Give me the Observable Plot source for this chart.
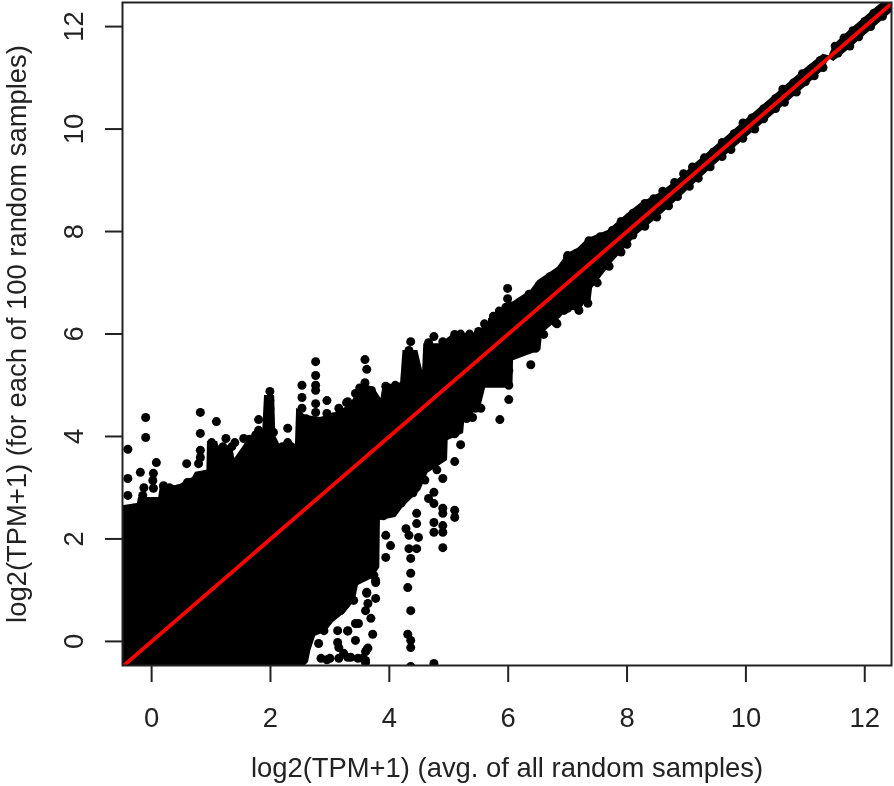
<!DOCTYPE html>
<html>
<head>
<meta charset="utf-8">
<script src="https://cdn.jsdelivr.net/npm/d3@7"></script>
<script src="https://cdn.jsdelivr.net/npm/@observablehq/plot@0.6"></script>
<style>
html,body{margin:0;padding:0;background:#fff}
svg{display:block;filter:blur(0.4px)}
</style>
</head>
<body>
<div id="chart"></div>
<script>
const xLabel = "log2(TPM+1) (avg. of all random samples)";
const yLabel = "log2(TPM+1) (for each of 100 random samples)";
const tickValues = [0, 2, 4, 6, 8, 10, 12];
const xDomain = [-0.49, 12.45];
const yDomain = [-0.47, 12.47];

// upper edge of the dense cloud
const upperX = [-0.49,-0.24,-0.22,0.12,0.15,0.44,0.69,0.74,0.93,0.94,1.11,1.13,1.36,1.40,1.55,1.63,1.87,1.90,2.07,2.09,2.17,2.42,2.44,2.59,2.85,3.18,3.35,3.54,3.74,3.86,3.89,4.19,4.23,4.48,4.56,4.58,4.87,5.08,5.42,5.66,5.67,5.93,6.16,6.38,6.50,6.83,7.00,7.17,7.34,7.68,8.01,8.23,8.57,8.91,9.12,9.5,10,10.5,11,11.3,11.4,11.48,11.7,12,12.45];
const upperY = [2.65,2.69,2.81,2.81,3.06,3.04,3.20,3.30,3.34,3.90,3.90,3.82,3.82,3.57,3.82,3.98,4.12,4.80,4.80,4.0,3.82,3.84,4.55,4.41,4.37,4.50,4.64,5.03,4.96,4.74,4.96,5.05,5.68,5.68,5.29,5.81,5.81,6.01,6.01,6.20,6.30,6.50,6.69,6.85,7.04,7.30,7.57,7.67,7.86,8.02,8.35,8.55,8.76,9.07,9.30,9.68,10.18,10.68,11.18,11.46,11.43,11.64,11.88,12.18,12.63];

// lower edge of the dense cloud
const lowerX = [-0.49,2.59,2.64,2.68,2.76,2.93,3.06,3.27,3.43,3.48,3.72,3.84,3.85,4.11,4.23,4.53,4.65,4.98,4.99,5.25,5.27,5.54,5.62,5.96,6.08,6.09,6.55,6.58,6.89,7.02,7.39,7.42,7.76,8.18,8.52,8.91,9.24,9.5,10,10.5,11,11.32,11.4,11.48,11.7,12,12.45];
const lowerY = [-0.47,-0.47,-0.41,-0.18,0.10,0.18,0.37,0.57,0.80,1.09,1.23,1.44,2.36,2.42,2.61,2.95,3.28,3.53,3.92,4.06,4.31,4.57,4.94,4.94,4.96,5.48,5.68,6.01,6.32,6.52,6.60,6.89,7.40,7.94,8.27,8.68,9.04,9.32,9.82,10.32,10.82,11.16,11.37,11.32,11.52,11.82,12.27];

// individually visible points around the cloud
const pointX = [-0.40,-0.10,-0.10,-0.40,-0.40,-0.19,0.08,0.03,0.02,-0.13,-0.15,0.03,0.2,0.59,0.61,0.82,0.82,0.82,0.82,0.79,1.09,1.01,1.25,1.40,1.55,1.80,1.80,1.99,1.99,1.99,1.99,2.05,2.29,2.29,2.53,2.53,2.53,2.53,2.76,2.76,2.76,2.76,2.76,2.76,2.95,2.95,3.15,3.28,3.59,3.62,3.59,3.43,3.30,3.94,4.36,4.33,4.66,4.75,4.90,5.10,
 6.38,5.86,6.01,5.54,5.40,5.20,5.10,4.90,4.75,4.66,4.75,4.90,4.90,5.10,5.10,4.46,4.46,4.75,4.90,4.75,4.90,4.90,4.28,4.33,4.49,4.33,4.46,4.36,4.36,4.31,4.36,4.31,4.36,4.36,4.36,4.75,3.94,4.02,3.94,3.77,3.74,3.77,3.62,3.69,3.60,3.72,3.43,3.43,3.30,3.62,3.60,3.47,3.30,3.23,3.40,3.18,2.81,2.85,3.13,3.15,3.13,2.90,3.30,3.35,
 5.99,5.99,5.96,7.19,7.19,7.34,6.82,6.94,6.46,6.26,6.01,6.01,7.0,7.36,
 3.60,3.64,3.15,3.48,3.62,3.64,3.77,3.0,2.95,3.55,3.6];
const pointY = [3.75,4.37,3.98,3.18,2.85,3.30,3.49,3.28,3.14,3.0,2.85,2.99,3.04,3.47,3.10,4.47,4.06,3.73,3.59,3.47,4.29,3.88,3.96,3.88,3.96,4.33,4.12,4.88,4.70,4.55,4.35,4.08,4.16,3.88,5.0,4.76,4.55,4.35,5.46,5.19,5.0,4.90,4.64,4.47,4.70,4.45,4.55,4.66,5.50,5.31,5.05,4.84,4.68,4.98,5.85,5.68,5.83,5.95,5.85,5.99,
 5.40,4.33,4.72,4.55,4.37,3.84,3.51,3.18,2.91,2.79,2.69,2.60,2.50,2.56,2.42,2.50,2.30,2.32,2.26,2.13,2.13,1.83,2.20,2.07,2.03,1.81,1.81,1.62,1.33,1.05,0.60,0.14,0.02,-0.12,-0.49,-0.43,1.64,1.87,2.07,1.15,1.29,0.84,0.94,0.45,0.60,0.14,0.35,0.02,0.20,-0.16,-0.41,-0.33,-0.31,-0.23,0.80,0.60,-0.04,-0.33,-0.02,-0.33,0.21,0.21,0.21,-0.31,
 6.89,6.69,6.52,6.46,6.60,6.60,6.2,6.46,5.72,5.68,5.29,5.0,7.53,7.82,
 -0.37,-0.13,-0.12,0.35,0.96,0.74,1.19,-0.33,-0.36,-0.33,-0.2];

// points lying on the scalloped edge of the cloud
const edgeX = [8.1,8.3,8.45,8.6,8.8,8.95,9.1,9.3,9.45,9.6,9.8,9.95,10.1,10.3,10.5,10.62,10.8,10.95,11.1,11.25,11.5,11.65,11.8,12.0,12.15,12.35,
 8.1,8.3,8.5,8.7,8.85,9.05,9.2,9.4,9.6,9.75,9.95,10.15,10.3,10.5,10.65,10.85,11.0,11.15,11.3,11.55,11.75,11.9,12.1,12.3,
 6.2,6.35,6.52,6.7,6.85,7.0,7.15,7.35,7.55,7.75,7.9,
 6.6,6.8,7.0,7.1,7.5,7.7,7.9,8.0,
 4.2,4.4,4.6,4.8,5.1,5.3,5.45,3.9,
 3.5,3.7,4.0,4.1,5.2,5.35,5.5,5.6,5.75,5.85,6.05,
 -0.3,-0.15,0.3,0.45,0.6,1.2,1.35,1.65,1.75,2.2,2.35,2.6,2.85,3.05];
const edgeY = [8.36,8.55,8.64,8.79,8.96,9.13,9.26,9.44,9.55,9.74,9.91,10.12,10.22,10.4,10.6,10.78,10.9,11.08,11.18,11.34,11.62,11.78,11.92,12.1,12.26,12.45,
 7.93,8.1,8.28,8.5,8.68,8.88,9.04,9.26,9.46,9.6,9.82,10.0,10.2,10.4,10.52,10.72,10.92,11.04,11.2,11.48,11.62,11.8,12.0,12.2,
 6.6,6.78,6.95,7.12,7.22,7.5,7.58,7.78,7.9,8.02,8.2,
 5.99,6.22,6.5,6.55,7.0,7.32,7.6,7.75,
 2.7,2.9,3.15,3.35,4.05,4.35,4.55,2.45,
 4.95,4.9,4.95,5.0,6.0,6.0,6.05,6.2,6.35,6.45,6.55,
 2.6,2.75,3.0,2.98,3.1,3.8,3.8,3.95,4.03,3.8,3.8,4.35,4.3,4.38];

const refLine = [-0.49, 12.47];
const upper = upperX.map((x, i) => ({x, y: upperY[i]}));
const lower = lowerX.map((x, i) => ({x, y: lowerY[i]}));
const points = pointX.map((x, i) => ({x, y: pointY[i]}));
const edges = edgeX.map((x, i) => ({x, y: edgeY[i]}));

const font = "'Liberation Sans', Arial, sans-serif";
const chart = Plot.plot({
  width: 894,
  height: 786,
  marginLeft: 122,
  marginRight: 3,
  marginTop: 2,
  marginBottom: 121,
  clip: true,
  style: {fontFamily: font, background: "#fff"},
  x: {domain: xDomain},
  y: {domain: yDomain},
  marks: [
    Plot.areaY(upper, {x: "x", y1: d => d.x, y2: "y", fill: "#000"}),
    Plot.areaY(lower, {x: "x", y1: d => d.x, y2: "y", fill: "#000"}),
    Plot.dot(edges, {x: "x", y: "y", r: 4.4, fill: "#000", stroke: "none"}),
    Plot.dot(points, {x: "x", y: "y", r: 4.5, fill: "#000", stroke: "none"}),
    Plot.line(refLine.map(v => ({x: v, y: v})), {x: "x", y: "y", stroke: "#ff0000", strokeWidth: 3.8}),
    Plot.frame({stroke: "#222", strokeWidth: 2, clip: false}),
    Plot.axisX({ticks: tickValues, tickSize: 17, tickPadding: 25, fontSize: 27.4, stroke: "#222", color: "#222", strokeWidth: 2,
      label: xLabel, labelAnchor: "center", labelArrow: "none", labelOffset: 111, clip: false, tickFormat: d => String(d)}),
    Plot.axisY({ticks: tickValues, tickSize: 17, tickPadding: 23, fontSize: 27.4, stroke: "#222", color: "#222", strokeWidth: 2,
      tickRotate: -90, label: yLabel, labelAnchor: "center", labelArrow: "none", labelOffset: 116, clip: false, tickFormat: d => String(d)})
  ]
});
document.getElementById("chart").appendChild(chart);
</script>
</body>
</html>
